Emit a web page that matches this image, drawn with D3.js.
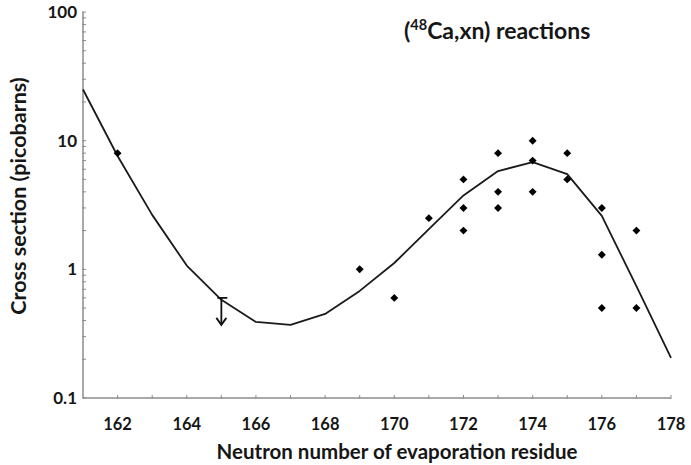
<!DOCTYPE html>
<html>
<head>
<meta charset="utf-8">
<script src="https://cdn.jsdelivr.net/npm/d3@7"></script>
<style>
  html, body { margin: 0; padding: 0; background: #fff; }
  svg { display: block; font-family: Lato, "Open Sans", sans-serif; font-weight: 700; }
</style>
</head>
<body>
<svg id="chart" width="691" height="465"></svg>
<script>
// Calculated cross section (line) versus neutron number of the residue
const theoryN = [161, 162, 163, 164, 165, 166, 167, 168, 169, 170, 171, 172, 173, 174, 175, 176, 177, 178];
const theorySigma = [25, 7.6, 2.65, 1.07, 0.58, 0.39, 0.37, 0.45, 0.68, 1.12, 2.05, 3.75, 5.8, 6.8, 5.5, 2.6, 0.74, 0.205];

// Measured cross sections (diamonds)
const measN = [162, 169, 170, 171, 172, 172, 172, 173, 173, 173, 174, 174, 174, 175, 175, 176, 176, 176, 177, 177];
const measSigma = [8, 1.0, 0.6, 2.5, 5, 3, 2, 8, 4, 3, 10, 7, 4, 8, 5, 3, 1.3, 0.5, 2, 0.5];

// Upper limit (arrow)
const limitN = [165];
const limitSigma = [0.6];

// Axis ticks and labels
const xTicks = [162, 164, 166, 168, 170, 172, 174, 176, 178];
const yMajor = [0.1, 1, 10, 100];
const yLabels = ["0.1", "1", "10", "100"];
const titleParts = ["(", "48", "Ca,xn) reactions"];
const xTitle = "Neutron number of evaporation residue";
const yTitle = "Cross section (picobarns)";

const svg = d3.select("#chart");
const axisColor = "#8c8c8c";
const textColor = "#161616";

const x = d3.scaleLinear().domain([161, 178]).range([83, 671]);
const y = d3.scaleLog().domain([0.1, 100]).range([398, 12]);

// Minor tick values (2..9 within each decade) plus majors
const yAll = [];
for (let d = 0.1; d < 100; d *= 10) {
  for (let k = 1; k <= 9; k++) yAll.push(+(d * k).toPrecision(3));
}
yAll.push(100);

// Y axis
const yAxis = svg.append("g");
yAxis.append("line")
  .attr("x1", x(161)).attr("x2", x(161))
  .attr("y1", y(100)).attr("y2", y(0.1))
  .attr("stroke", axisColor).attr("stroke-width", 1.5);
yAxis.selectAll("line.tick").data(yAll).join("line")
  .attr("class", "tick")
  .attr("x1", x(161) - 1).attr("x2", x(161) + 3)
  .attr("y1", d => y(d)).attr("y2", d => y(d))
  .attr("stroke", axisColor).attr("stroke-width", 1);
yAxis.selectAll("text").data(yMajor).join("text")
  .attr("x", 77).attr("y", d => y(d))
  .attr("dy", "0.35em")
  .attr("text-anchor", "end")
  .attr("font-size", 17).attr("fill", textColor)
  .text((d, i) => yLabels[i]);

// X axis
const xAxis = svg.append("g");
xAxis.append("line")
  .attr("x1", x(161)).attr("x2", x(178))
  .attr("y1", y(0.1)).attr("y2", y(0.1))
  .attr("stroke", axisColor).attr("stroke-width", 1.5);
xAxis.selectAll("line.tick").data(d3.range(162, 179)).join("line")
  .attr("class", "tick")
  .attr("x1", d => x(d)).attr("x2", d => x(d))
  .attr("y1", y(0.1) - 3).attr("y2", y(0.1) + 1)
  .attr("stroke", axisColor).attr("stroke-width", 1);
xAxis.selectAll("text").data(xTicks).join("text")
  .attr("x", d => x(d)).attr("y", 430)
  .attr("text-anchor", "middle")
  .attr("font-size", 16.5).attr("fill", textColor)
  .text(d => d);

// Axis titles
svg.append("text")
  .attr("x", 397).attr("y", 459)
  .attr("text-anchor", "middle")
  .attr("font-size", 20.5).attr("fill", textColor)
  .text(xTitle);
svg.append("text")
  .attr("transform", "translate(26,196) rotate(-90)")
  .attr("text-anchor", "middle")
  .attr("font-size", 21.5).attr("fill", textColor)
  .text(yTitle);

// Reaction label with superscript mass number
const t = svg.append("text")
  .attr("x", 404).attr("y", 39)
  .attr("font-size", 23).attr("fill", textColor);
t.append("tspan").text(titleParts[0]);
t.append("tspan").attr("font-size", 14.5).attr("dy", -9).text(titleParts[1]);
t.append("tspan").attr("dy", 9).text(titleParts[2]);

// Calculated curve
const line = d3.line()
  .x((d, i) => x(theoryN[i]))
  .y(d => y(d));
svg.append("path")
  .datum(theorySigma)
  .attr("d", line)
  .attr("fill", "none")
  .attr("stroke", "#1a1a1a")
  .attr("stroke-width", 1.8)
  .attr("stroke-linejoin", "round");

// Measured points as diamonds
svg.selectAll("path.pt").data(measSigma).join("path")
  .attr("class", "pt")
  .attr("d", d3.symbol().type(d3.symbolDiamond2).size(40))
  .attr("transform", (d, i) => `translate(${x(measN[i])},${y(d)})`)
  .attr("fill", "#000");

// Upper limit marker: cap, shaft and arrow head
limitN.forEach((n, i) => {
  const cx = x(n), top = y(limitSigma[i]), tip = top + 27;
  const g = svg.append("g").attr("stroke", "#111").attr("stroke-width", 1.8).attr("fill", "none");
  g.append("line").attr("x1", cx - 4).attr("x2", cx + 6).attr("y1", top).attr("y2", top);
  g.append("line").attr("x1", cx).attr("x2", cx).attr("y1", top).attr("y2", tip);
  g.append("polyline").attr("points", `${cx - 5},${tip - 7} ${cx},${tip} ${cx + 5},${tip - 7}`);
});
</script>
</body>
</html>
